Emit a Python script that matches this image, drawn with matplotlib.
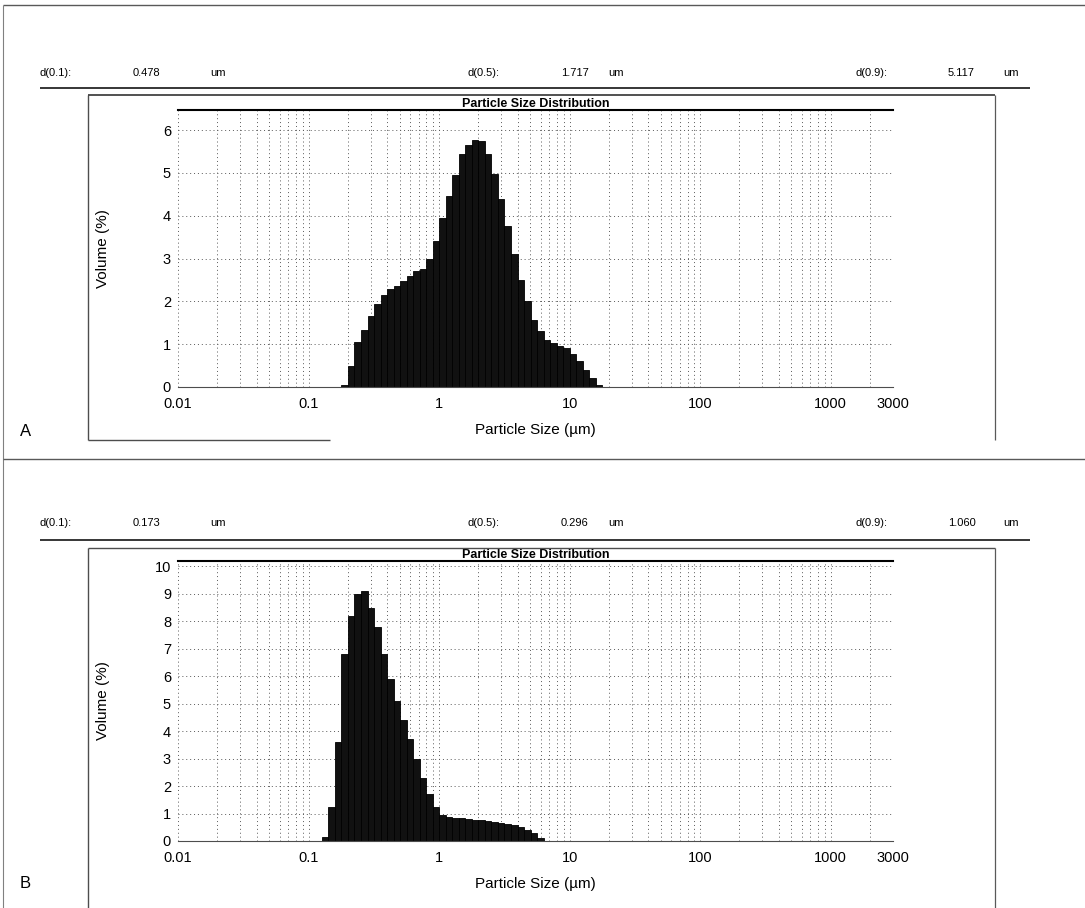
import matplotlib
matplotlib.use("Agg")
import matplotlib.pyplot as plt
import numpy as np

plt.rcParams['font.family'] = ['Liberation Sans', 'DejaVu Sans']

# Mastersizer size class edges (um)
class_edges = [0.112, 0.126, 0.142, 0.159, 0.178, 0.200, 0.224, 0.252, 0.283, 0.317,
               0.356, 0.399, 0.448, 0.502, 0.564, 0.632, 0.710, 0.796, 0.893, 1.002,
               1.125, 1.262, 1.416, 1.589, 1.783, 2.000, 2.244, 2.518, 2.825, 3.170,
               3.557, 3.991, 4.477, 5.024, 5.637, 6.325, 7.096, 7.962, 8.934, 10.024,
               11.247, 12.619, 14.159, 15.887, 17.825, 20.000]

# sample A: first class starts at 0.178 um
a_start = 0.178
a_volume = [0.05, 0.5, 1.05, 1.32, 1.67, 1.95, 2.15, 2.3, 2.37, 2.48, 2.6, 2.72,
            2.75, 3.0, 3.4, 3.95, 4.45, 4.95, 5.45, 5.65, 5.78, 5.74, 5.45, 4.97,
            4.4, 3.75, 3.1, 2.5, 2.0, 1.56, 1.3, 1.1, 1.02, 0.95, 0.9, 0.78,
            0.6, 0.4, 0.2, 0.05]
a_d = ["0.478", "1.717", "5.117"]

# sample B: first class starts at 0.126 um
b_start = 0.126
b_volume = [0.15, 1.25, 3.6, 6.8, 8.2, 9.0, 9.1, 8.5, 7.8, 6.8, 5.9, 5.1,
            4.4, 3.7, 3.0, 2.3, 1.7, 1.25, 0.95, 0.88, 0.85, 0.82, 0.8, 0.78,
            0.75, 0.72, 0.7, 0.66, 0.62, 0.57, 0.5, 0.4, 0.28, 0.12]
b_d = ["0.173", "0.296", "1.060"]

d_names = ["d(0.1):", "d(0.5):", "d(0.9):"]
x_ticks = [0.01, 0.1, 1, 10, 100, 1000, 3000]
x_ticklabels = ["0.01", "0.1", "1", "10", "100", "1000", "3000"]

W, H = 1085, 908
fig = plt.figure(figsize=(W / 100, H / 100), dpi=100)

# overlay in pixel coordinates for the report frame
over = fig.add_axes([0, 0, 1, 1], zorder=5)
over.set_xlim(0, W)
over.set_ylim(H, 0)
over.axis("off")
over.patch.set_alpha(0)


def hline(y, x0, x1, lw=1.0, c="0.2"):
    over.plot([x0, x1], [y, y], color=c, lw=lw, solid_capstyle="butt")


def vline(x, y0, y1, lw=1.0, c="0.2"):
    over.plot([x, x], [y0, y1], color=c, lw=lw, solid_capstyle="butt")


hline(5, 3, W, 1.0, "0.35")
vline(3, 5, H, 0.8, "0.5")
hline(459, 3, W, 1.0, "0.35")


def header(y, values):
    xs = [40, 468, 855]
    um_x = [210, 608, 1003]
    for i in range(3):
        over.text(xs[i], y, d_names[i], fontsize=8, va="center")
        over.text(xs[i] + 93, y, values[i], fontsize=8, va="center")
        over.text(um_x[i], y, "um", fontsize=8, va="center")


header(73, a_d)
hline(88, 40, 1030, 1.3, "0.15")
vline(88, 95, 440, 1.0, "0.3")
hline(95, 88, 995, 1.2, "0.2")
vline(995, 95, 440, 0.9, "0.35")
hline(440, 88, 330, 1.0, "0.3")
over.text(20, 432, "A", fontsize=12, va="center")

header(523, b_d)
hline(540, 40, 1030, 1.3, "0.15")
vline(88, 548, H, 1.0, "0.3")
hline(548, 88, 995, 1.0, "0.3")
vline(995, 548, H, 0.9, "0.35")
over.text(20, 884, "B", fontsize=12, va="center")


def psd_axes(left, top, right, bottom, start, volume, ymax, yticks):
    ax = fig.add_axes([left / W, 1 - bottom / H, (right - left) / W, (bottom - top) / H])
    i0 = class_edges.index(start)
    edges = class_edges[i0:i0 + len(volume) + 1]
    ax.bar(edges[:-1], volume, width=np.diff(edges), align="edge",
           color="#111111", edgecolor="#000000", linewidth=0.6, zorder=2)
    ax.set_xscale("log")
    ax.set_xlim(0.01, 3000)
    ax.set_ylim(0, ymax)
    ax.set_xticks(x_ticks)
    ax.set_xticklabels(x_ticklabels)
    ax.xaxis.set_minor_locator(matplotlib.ticker.LogLocator(base=10, subs=np.arange(2, 10)))
    ax.xaxis.set_minor_formatter(matplotlib.ticker.NullFormatter())
    ax.set_yticks(yticks)
    ax.tick_params(which="both", length=0, labelsize=10.5)
    ax.tick_params(axis="x", pad=7)
    ax.tick_params(axis="y", pad=5)
    ax.grid(True, which="both", axis="x", color="0.35", lw=0.7, ls=(0, (1, 3)))
    ax.grid(True, which="major", axis="y", color="0.35", lw=0.7, ls=(0, (1, 3)))
    ax.set_axisbelow(True)
    for s in ["left", "right"]:
        ax.spines[s].set_visible(False)
    ax.spines["top"].set_linewidth(1.5)
    ax.spines["bottom"].set_linewidth(0.8)
    ax.spines["bottom"].set_color("0.3")
    ax.set_title("Particle Size Distribution", fontsize=9, fontweight="bold", pad=1.5)
    ax.set_ylabel("Volume (%)", fontsize=11)
    ax.yaxis.set_label_coords(-(178 - 110) / (right - left), 0.5)
    ax.set_xlabel("Particle Size (\u00b5m)", fontsize=11)
    ax.xaxis.set_label_coords(0.5, -36 / (bottom - top))
    return ax


psd_axes(178, 110, 893, 387, a_start, a_volume, 6.47, range(0, 7))
psd_axes(178, 561, 893, 841, b_start, b_volume, 10.2, range(0, 11))

fig.savefig("out.png", dpi=100)
